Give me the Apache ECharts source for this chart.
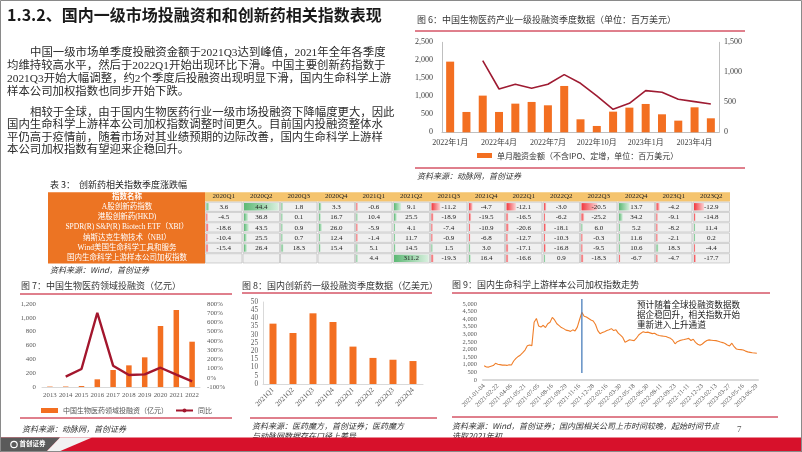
<!DOCTYPE html>
<html><head><meta charset="utf-8">
<script src="https://cdn.jsdelivr.net/npm/echarts@6/dist/echarts.min.js"></script>
<style>html,body{margin:0;padding:0;background:#fff}#c{width:802px;height:452px}</style>
</head><body><div id="c"></div>
<script>
const SERIF = "'Liberation Serif','Noto Sans CJK SC',serif";
const SANS = "'Noto Sans CJK SC','Noto Sans',sans-serif";
const RED = '#c0001a';
const ORANGE = '#f36f21';

// ---- Fig 6 ----
const fig6Months = ['2022年1月','2022年2月','2022年3月','2022年4月','2022年5月','2022年6月','2022年7月','2022年8月','2022年9月','2022年10月','2022年11月','2022年12月','2023年1月','2023年2月','2023年3月','2023年4月','2023年5月'];
const fig6Amount = [1963, 565, 1019, 565, 796, 843, 750, 1287, 361, 176, 574, 685, 787, 500, 324, 694, 389];
const fig6Line = ['-', '-', 1194, 722, 800, 733, 800, 961, 817, 606, 383, 483, 694, 667, 550, 511, 472];
const fig6BarName = '单月融资金额（不含IPO、定增，单位：百万美元）';

// ---- Table 3 ----
const tableQuarters = ['2020Q1','2020Q2','2020Q3','2020Q4','2021Q1','2021Q2','2021Q3','2021Q4','2022Q1','2022Q2','2022Q3','2022Q4','2023Q1','2023Q2'];
const tableNames = ['A股创新药指数','港股创新药(HKD)','SPDR(R) S&P(R) Biotech ETF（XBI）','纳斯达克生物技术（NBI）','Wind美国生命科学工具和服务','国内生命科学上游样本公司加权指数'];
const rowA = [3.6, 44.4, 1.8, 3.3, -0.6, 9.1, -11.2, -4.7, -12.1, -3.0, -20.5, 13.7, -4.2, -12.9];
const rowHK = [-4.5, 36.8, 0.1, 16.7, 10.4, 25.5, -18.9, -19.5, -16.5, -6.2, -25.2, 34.2, -9.1, -14.8];
const rowXBI = [-18.6, 43.5, 0.9, 26.0, -5.9, 4.1, -7.4, -10.9, -20.6, -18.1, 6.0, 5.2, -8.2, 11.4];
const rowNBI = [-10.4, 25.5, 0.7, 12.4, -1.4, 11.7, -0.9, -6.8, -12.7, -10.3, -0.3, 11.6, -2.1, 0.2];
const rowWind = [-15.4, 26.4, 18.3, 15.4, 5.1, 14.5, 1.5, 3.0, -17.1, -16.8, -9.5, 10.6, 18.3, -4.4];
const rowCN = [null, null, null, null, 4.4, 311.2, -19.3, 16.4, -16.6, 0.9, -18.3, -6.7, -4.7, -17.7];
const tableRows = [rowA, rowHK, rowXBI, rowNBI, rowWind, rowCN];

// ---- Fig 7 ----
const fig7Years = ['2013','2014','2015','2016','2017','2018','2019','2020','2021','2022'];
const fig7Amount = [6, 7, 14, 111, 246, 313, 429, 882, 1113, 655];
const fig7Yoy = ['-', 12, 95, 705, 131, 30, 37, 109, 34, -39];
const fig7BarName = '中国生物医药领域投融资（亿元）';

// ---- Fig 8 ----
const fig8Quarters = ['2021Q1','2021Q2','2021Q3','2021Q4','2022Q1','2022Q2','2022Q3','2022Q4'];
const fig8Amount = [36.8, 31.1, 43.1, 37.8, 22.8, 15.9, 14.8, 14.0];

// ---- Fig 9 ----
const fig9Ticks = ['2021-01-04','2021-02-22','2021-04-06','2021-05-21','2021-07-05','2021-08-16','2021-09-29','2021-11-16','2021-12-28','2022-02-16','2022-03-30','2022-05-18','2022-06-30','2022-08-11','2022-09-23','2022-11-11','2022-12-23','2023-02-13','2023-03-27','2023-05-16','2023-06-29'];
const fig9Values = [940,860,850,900,950,1100,1040,1010,980,990,960,1000,990,1250,1420,1550,1650,1800,1970,2250,2300,2260,3800,4050,3550,3480,3600,3450,3700,3800,4120,3950,3700,3580,3450,3380,3280,3250,3200,3300,3230,3480,3980,4450,4200,4150,4050,3950,3880,3650,3250,3050,3120,3180,3250,3300,3380,3250,3300,3080,2950,2800,2480,2560,2650,2620,2590,2750,2960,3080,3180,3120,3150,3100,3050,3080,2980,2930,2900,2880,2860,2800,2740,2620,2380,2520,2590,2630,2660,2700,2740,2600,2680,2480,2350,2280,2370,2500,2600,2640,2620,2600,2590,2550,2500,2460,2400,2300,2240,2420,2190,2040,2010,2000,1970,1900,1850,1820,1790,1780,1760];
const fig9Cats = fig9Values.map((v, i) => String(i));
const fig9Marker = [[43, 5330, 460]]; // [index, top value, bottom value]

// ---- helpers ----
function txt(x, y, text, size, o) {
  o = o || {};
  return { type: 'text', z: 10, style: { text: text, x: x, y: y, fontSize: size, fontFamily: o.font || SANS,
    fontWeight: o.bold ? 'bold' : 'normal', fontStyle: o.italic ? 'italic' : 'normal', fill: o.color || '#222',
    align: o.align || 'left', verticalAlign: 'middle' } };
}
function hline(x1, x2, y, color, w) {
  return { type: 'line', z: 10, shape: { x1: x1, y1: y, x2: x2, y2: y }, style: { stroke: color || RED, lineWidth: w || 1 } };
}
function rect(x, y, w, h, fill, z) {
  return { type: 'rect', z: z || 0, shape: { x: x, y: y, width: w, height: h }, style: { fill: fill } };
}

const para = [
  [30, 53, '中国一级市场单季度投融资金额于2021Q3达到峰值，2021年全年各季度'],
  [7, 66, '均维持较高水平，然后于2022Q1开始出现环比下滑。中国主要创新药指数于'],
  [7, 79, '2021Q3开始大幅调整，约2个季度后投融资出现明显下滑，国内生命科学上游'],
  [7, 92, '样本公司加权指数也同步开始下跌。'],
  [30, 113, '相较于全球，由于国内生物医药行业一级市场投融资下降幅度更大，因此'],
  [7, 125.5, '国内生命科学上游样本公司加权指数调整时间更久。目前国内投融资整体水'],
  [7, 138, '平仍高于疫情前，随着市场对其业绩预期的边际改善，国内生命科学上游样'],
  [7, 150.5, '本公司加权指数有望迎来企稳回升。']
];

const graphics = [];
graphics.push({ type: 'rect', z: 20, shape: { x: 0.5, y: 0.5, width: 801, height: 451 }, style: { fill: 'none', stroke: '#8a8a8a', lineWidth: 1 } });
graphics.push(txt(7, 15, '1.3.2、国内一级市场投融资和和创新药相关指数表现', 16, { bold: true, color: '#1a1a1a' }));
para.forEach(p => graphics.push(txt(p[0], p[1], p[2], 11.4, { font: SERIF, color: '#2a2a2a' })));

// fig6 texts
graphics.push(txt(417, 20, '图 6：中国生物医药产业一级投融资季度数据（单位：百万美元）', 9, { color: '#333' }));
graphics.push(hline(415, 745, 31));
graphics.push(hline(415, 745, 168));
graphics.push(txt(417, 176, '资料来源：动脉网，首创证券', 8, { italic: true, color: '#333' }));

// table
graphics.push(txt(50, 185, '表 3：  创新药相关指数季度涨跌幅', 9, { color: '#222' }));
graphics.push(rect(48, 192.3, 157, 71.2, '#ec7423'));
graphics.push(rect(205, 192.3, 525, 9.2, '#f5c46e'));
graphics.push(txt(127, 196.6, '指数名称', 7.5, { color: '#fff', bold: true, align: 'center' }));
graphics.push(txt(50, 269.5, '资料来源：Wind，首创证券', 8, { italic: true, color: '#333' }));

// fig7
graphics.push(txt(21, 286, '图 7：中国生物医药领域投融资（亿元）', 9, { color: '#333' }));
graphics.push(hline(20, 232, 294));
graphics.push(hline(20, 232, 418));
graphics.push(txt(22, 429, '资料来源：动脉网，首创证券', 8, { italic: true, color: '#333' }));

// fig8
graphics.push(txt(242, 286, '图 8：国内创新药一级投融资季度数据（亿美元）', 9, { color: '#333' }));
graphics.push(hline(242, 432, 293));
graphics.push(hline(250, 437, 418));
graphics.push(txt(252, 426, '资料来源：医药魔方，首创证券；医药魔方', 8, { italic: true, color: '#333' }));
graphics.push(txt(252, 436, '与动脉网数据存在口径上差异', 8, { italic: true, color: '#333' }));

// fig9
graphics.push(txt(452, 285, '图 9：国内生命科学上游样本公司加权指数走势', 9, { color: '#333' }));
graphics.push(hline(452, 770, 293));
graphics.push(hline(452, 778, 417));
graphics.push(txt(637, 305, '预计随着全球投融资数据数', 8.6, { color: '#222' }));
graphics.push(txt(637, 315, '据企稳回升，相关指数开始', 8.6, { color: '#222' }));
graphics.push(txt(637, 325, '重新进入上升通道', 8.6, { color: '#222' }));
graphics.push(txt(452, 426, '资料来源：Wind，首创证券；国内国相关公司上市时间较晚，起始时间节点', 8, { italic: true, color: '#333' }));
graphics.push(txt(452, 436, '选取2021年初', 8, { italic: true, color: '#333' }));
graphics.push(txt(737, 430, '7', 9, { font: SERIF, color: '#555' }));

// bottom band
graphics.push(rect(0, 437.5, 802, 14.5, '#d7112b', 15));
graphics.push({ type: 'polygon', z: 16, shape: { points: [[0, 437.5], [60, 437.5], [46, 452], [0, 452]] }, style: { fill: '#5a5a5a' } });
graphics.push({ type: 'polygon', z: 16, shape: { points: [[60, 437.5], [92, 437.5], [58, 452], [46, 452]] }, style: { fill: '#f2f2f2' } });
graphics.push({ type: 'circle', z: 17, shape: { cx: 14, cy: 444.5, r: 3.2 }, style: { fill: 'none', stroke: '#fff', lineWidth: 1.2 } });
graphics.push(Object.assign(txt(19.5, 444, '首创证券', 6.5, { color: '#fff', bold: true }), { z: 17 }));

// table cell data
const tableCells = [];
tableRows.forEach((row, r) => row.forEach((v, c) => tableCells.push([c, r])));
const rowAMax = Math.max.apply(null, rowA.map(Math.abs));
const allMax = Math.max.apply(null, [].concat(rowHK, rowXBI, rowNBI, rowWind, rowCN.filter(v => v !== null)).map(Math.abs));

const axisLbl = (size, color) => ({ fontSize: size, fontFamily: SERIF, color: color || '#595959' });
const noLine = { show: false };

const option = {
  animation: false,
  textStyle: { fontFamily: SERIF },
  graphic: graphics,
  legend: [
    { data: [{ name: fig6BarName, icon: 'rect' }], left: 477, top: 151.5, itemWidth: 15, itemHeight: 5, padding: 0,
      textStyle: { fontSize: 8, fontFamily: SANS, color: '#333' } },
    { data: [{ name: fig7BarName, icon: 'rect' }, { name: '同比' }], left: 41, top: 407, itemWidth: 17, itemHeight: 5, itemGap: 7, padding: 0,
      textStyle: { fontSize: 7, fontFamily: SANS, color: '#555' } }
  ],
  grid: [
    { left: 442, top: 42.3, width: 277, height: 90, containLabel: false, outerBoundsMode: 'none' },
    { left: 205, top: 201.6, width: 525, height: 61.9, containLabel: false, outerBoundsMode: 'none' },
    { left: 42, top: 304, width: 158, height: 83, containLabel: false, outerBoundsMode: 'none' },
    { left: 263, top: 302, width: 160, height: 82, containLabel: false, outerBoundsMode: 'none' },
    { left: 483, top: 304, width: 275, height: 76, containLabel: false, outerBoundsMode: 'none' }
  ],
  xAxis: [
    { type: 'category', gridIndex: 0, data: fig6Months, axisTick: noLine,
      axisLine: { lineStyle: { color: '#bfbfbf' } },
      axisLabel: Object.assign(axisLbl(8, '#404040'), { interval: 2, margin: 7 }) },
    { type: 'category', gridIndex: 1, data: tableQuarters, position: 'top', axisTick: noLine, axisLine: noLine,
      axisLabel: Object.assign(axisLbl(7, '#222'), { interval: 0, margin: 5, verticalAlign: 'middle' }) },
    { type: 'category', gridIndex: 2, data: fig7Years, axisTick: noLine,
      axisLine: { lineStyle: { color: '#d9d9d9' } },
      axisLabel: Object.assign(axisLbl(6.8), { interval: 0, margin: 5 }) },
    { type: 'category', gridIndex: 3, data: fig8Quarters, axisTick: noLine,
      axisLine: { lineStyle: { color: '#d9d9d9' } },
      axisLabel: Object.assign(axisLbl(7.2), { interval: 0, rotate: 45, margin: 5 }) },
    { type: 'category', gridIndex: 4, data: fig9Cats, axisTick: noLine,
      axisLine: { lineStyle: { color: '#d9d9d9', width: 2 } },
      axisLabel: Object.assign(axisLbl(6.4), { interval: 5, rotate: 45, margin: 5,
        formatter: (v, i) => (i % 6 === 0 ? fig9Ticks[i / 6] : '') }) }
  ],
  yAxis: [
    { type: 'value', gridIndex: 0, min: 0, max: 2500, interval: 500, splitLine: noLine,
      axisLine: { show: true, lineStyle: { color: '#bfbfbf' } }, axisLabel: Object.assign(axisLbl(8, '#404040'), { margin: 9 }) },
    { type: 'value', gridIndex: 0, min: 0, max: 1500, interval: 500, position: 'right', splitLine: noLine,
      axisLine: { show: true, lineStyle: { color: '#bfbfbf' } }, axisLabel: Object.assign(axisLbl(8, '#404040'), { margin: 5 }) },
    { type: 'category', gridIndex: 1, data: tableNames, inverse: true, axisTick: noLine, axisLine: noLine,
      axisLabel: Object.assign(axisLbl(7.5, '#fff'), { align: 'center', margin: 78, interval: 0 }) },
    { type: 'value', gridIndex: 2, min: 0, max: 1200, interval: 200, splitLine: noLine, axisLine: noLine,
      axisLabel: Object.assign(axisLbl(6.8), { margin: 6 }) },
    { type: 'value', gridIndex: 2, min: -100, max: 800, interval: 100, position: 'right', splitLine: noLine, axisLine: noLine,
      axisLabel: Object.assign(axisLbl(6.8), { margin: 7, formatter: '{value}%' }) },
    { type: 'value', gridIndex: 3, min: 0, max: 50, interval: 5, splitLine: noLine,
      axisLine: { show: true, lineStyle: { color: '#d9d9d9' } }, axisLabel: Object.assign(axisLbl(7.2), { margin: 5 }) },
    { type: 'value', gridIndex: 4, min: 0, max: 5000, interval: 500, splitLine: noLine, axisLine: noLine,
      axisLabel: Object.assign(axisLbl(6.4), { margin: 6 }) }
  ],
  series: [
    { name: fig6BarName, type: 'bar', xAxisIndex: 0, yAxisIndex: 0, data: fig6Amount, barWidth: 8,
      itemStyle: { color: ORANGE } },
    { name: 'fig6line', type: 'line', xAxisIndex: 0, yAxisIndex: 1, data: fig6Line, symbol: 'none',
      lineStyle: { color: '#9e1b32', width: 1.6 } },
    { name: 'table', type: 'custom', coordinateSystem: 'cartesian2d', xAxisIndex: 1, yAxisIndex: 2,
      encode: { x: 0, y: 1 }, data: tableCells,
      renderItem: function (params, api) {
        const c = api.value(0), r = api.value(1);
        const v = tableRows[r][c];
        const p = api.coord([c, r]);
        const s = api.size([1, 1]);
        const w = s[0], h = s[1];
        const x0 = p[0] - w / 2, y0 = p[1] - h / 2;
        const kids = [{ type: 'rect', shape: { x: x0 + 0.5, y: y0 + 0.5, width: w - 1, height: h - 1 },
          style: { fill: '#f0f0f0', stroke: '#b5b5b5', lineWidth: 0.6 } }];
        if (v !== null) {
          const sc = r === 0 ? rowAMax : allMax;
          const bw = Math.max(1.3, Math.abs(v) / sc * (w - 3));
          const pos = v >= 0;
          kids.push({ type: 'rect', shape: { x: x0 + 1.5, y: y0 + 1.5, width: bw, height: h - 3 },
            style: { fill: new echarts.graphic.LinearGradient(0, 0, 1, 0, [
              { offset: 0, color: pos ? '#5cb874' : '#f0383e' },
              { offset: 1, color: pos ? '#d9f0df' : '#fbd3d4' }]) } });
          kids.push({ type: 'text', style: { text: v.toFixed(1), x: p[0], y: p[1] + 0.3, align: 'center', verticalAlign: 'middle',
            fontSize: 7, fontFamily: SERIF, fill: '#222' } });
        }
        return { type: 'group', children: kids };
      } },
    { name: fig7BarName, type: 'bar', xAxisIndex: 2, yAxisIndex: 3, data: fig7Amount, barWidth: 5.5,
      itemStyle: { color: ORANGE } },
    { name: '同比', type: 'line', xAxisIndex: 2, yAxisIndex: 4, data: fig7Yoy, symbol: 'none',
      lineStyle: { color: '#a3162d', width: 2.4 }, itemStyle: { color: '#a3162d' } },
    { name: 'fig8', type: 'bar', xAxisIndex: 3, yAxisIndex: 5, data: fig8Amount, barWidth: 7,
      itemStyle: { color: ORANGE } },
    { name: 'fig9', type: 'line', xAxisIndex: 4, yAxisIndex: 6, data: fig9Values, symbol: 'none',
      lineStyle: { color: '#f07f2a', width: 1.1 } },
    { name: 'fig9marker', type: 'custom', coordinateSystem: 'cartesian2d', xAxisIndex: 4, yAxisIndex: 6,
      clip: false, silent: true, z: 5, encode: { x: 0, y: [1, 2] }, data: fig9Marker,
      renderItem: function (params, api) {
        const a = api.coord([api.value(0), api.value(1)]);
        const b = api.coord([api.value(0), api.value(2)]);
        return { type: 'line', shape: { x1: a[0], y1: a[1], x2: b[0], y2: b[1] },
          style: { stroke: '#4a7ebb', lineWidth: 1.3 } };
      } }
  ]
};
const chart = echarts.init(document.getElementById('c'), null, { renderer: 'canvas' });
chart.setOption(option);
</script></body></html>
